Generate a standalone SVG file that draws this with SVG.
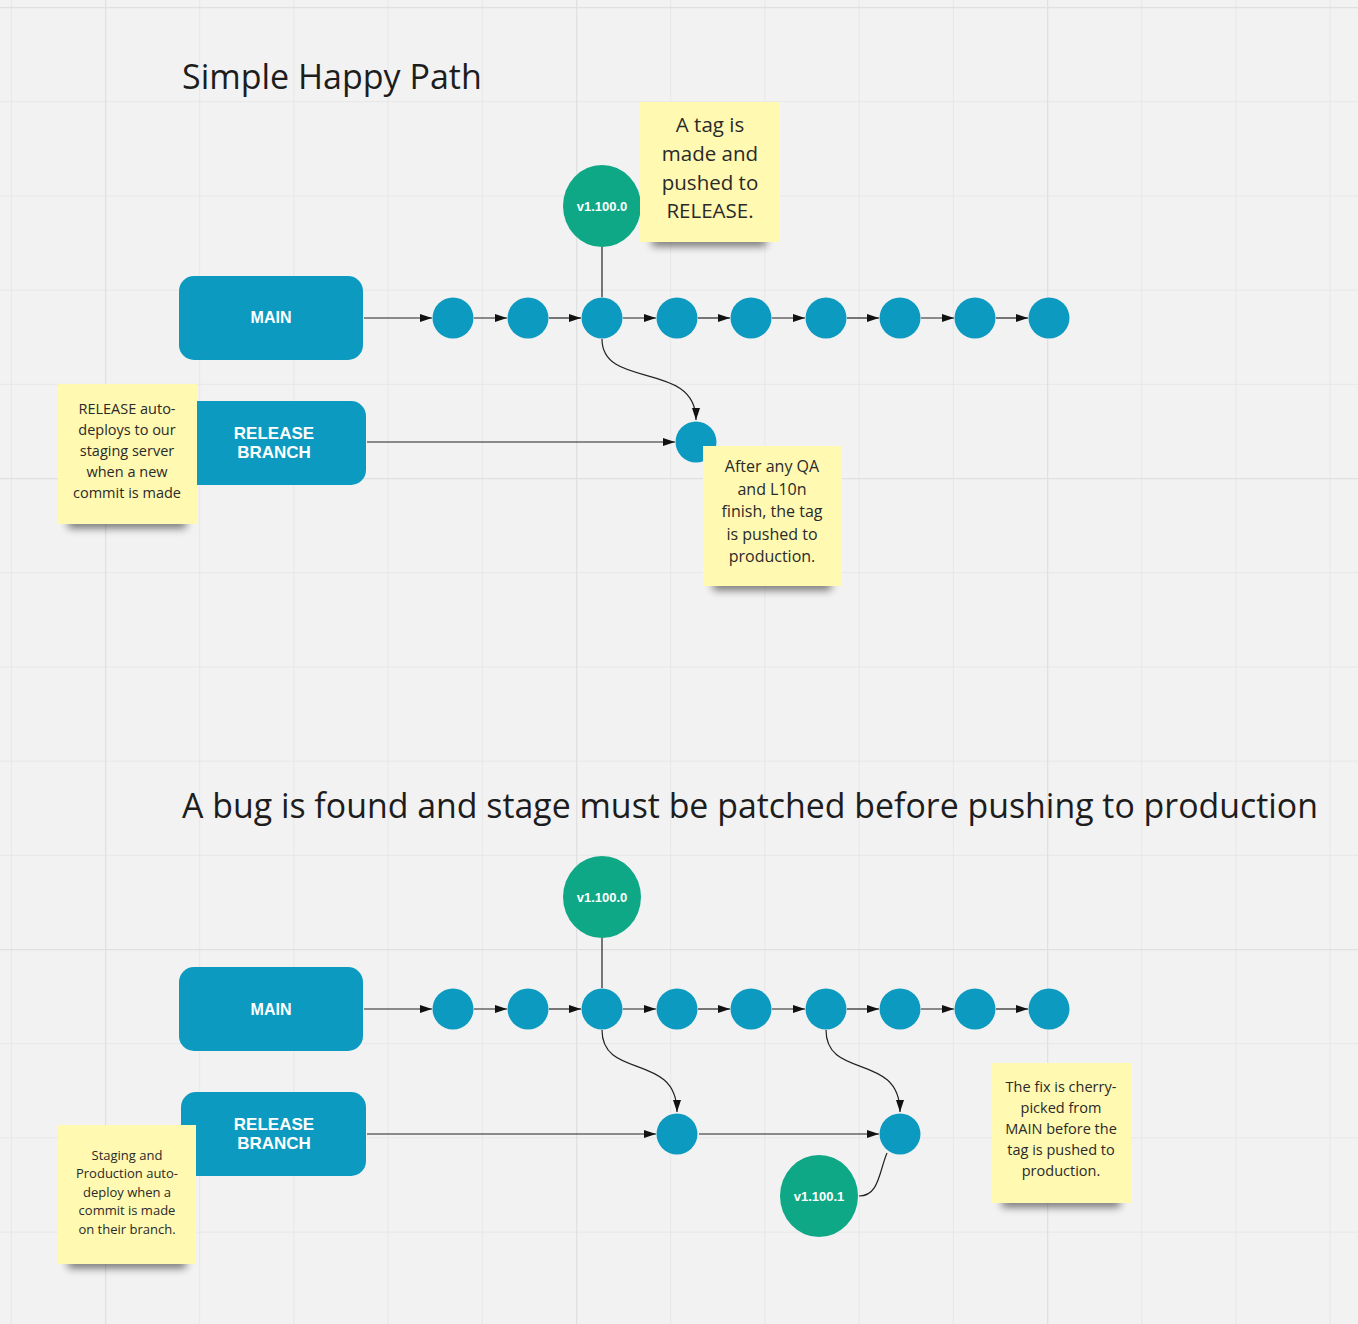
<svg xmlns="http://www.w3.org/2000/svg" width="1358" height="1324" viewBox="0 0 1358 1324">
<style>
.title{font-family:"Open Sans","Liberation Sans",sans-serif;font-size:34px;fill:#1d1d1d}
.box{fill:#0C9AC0}
.lbl{font-family:"Liberation Sans",Arial,sans-serif;font-weight:bold;fill:#fff;text-anchor:middle}
.c{fill:#0C9AC0}
.tag{fill:#0FA886}
.note{fill:#FFF9B1}
.nt{font-family:"Open Sans","Liberation Sans",sans-serif;fill:#2a2a2a;text-anchor:middle}
.ln{stroke:#222;stroke-width:1.2;fill:none}
.sh{fill:#000;opacity:0.55;filter:url(#blur)}
</style>
<defs>
<pattern id="grid" x="10.8" y="7" width="94.2" height="94.2" patternUnits="userSpaceOnUse">
<path d="M0 0H94.2M0 0V94.2" stroke="#e4e4e4" stroke-width="1.5" fill="none"/>
</pattern>
<pattern id="grid5" x="105" y="7" width="471" height="471" patternUnits="userSpaceOnUse">
<path d="M0 0H471M0 0V471" stroke="#e0e0e0" stroke-width="2.5" fill="none"/>
</pattern>
<filter id="blur" x="-20%" y="-100%" width="140%" height="300%"><feGaussianBlur stdDeviation="4"/></filter>
<marker id="ah" viewBox="0 0 12 8" refX="12" refY="4" markerWidth="12" markerHeight="8" markerUnits="userSpaceOnUse" orient="auto"><path d="M0 0L12 4L0 8z" fill="#111"/></marker>
</defs>
<rect width="1358" height="1324" fill="#F2F2F2"/>
<rect width="1358" height="1324" fill="url(#grid)"/>
<rect width="1358" height="1324" fill="url(#grid5)"/>

<text class="title" x="182" y="89">Simple Happy Path</text>
<text class="title" x="182" y="818" textLength="1136" lengthAdjust="spacingAndGlyphs">A bug is found and stage must be patched before pushing to production</text>

<g id="connectors">
<path class="ln" d="M364 318H432" marker-end="url(#ah)"/>
<path class="ln" d="M474 318H507" marker-end="url(#ah)"/>
<path class="ln" d="M549 318H581" marker-end="url(#ah)"/>
<path class="ln" d="M623 318H656" marker-end="url(#ah)"/>
<path class="ln" d="M698 318H730" marker-end="url(#ah)"/>
<path class="ln" d="M772 318H805" marker-end="url(#ah)"/>
<path class="ln" d="M847 318H879" marker-end="url(#ah)"/>
<path class="ln" d="M921 318H954" marker-end="url(#ah)"/>
<path class="ln" d="M996 318H1028" marker-end="url(#ah)"/>
<path class="ln" d="M602 247V297"/>
<path class="ln" d="M602 339C602 390 696 360 696 420" marker-end="url(#ah)"/>
<path class="ln" d="M367 442H675" marker-end="url(#ah)"/>

<path class="ln" d="M364 1009H432" marker-end="url(#ah)"/>
<path class="ln" d="M474 1009H507" marker-end="url(#ah)"/>
<path class="ln" d="M549 1009H581" marker-end="url(#ah)"/>
<path class="ln" d="M623 1009H656" marker-end="url(#ah)"/>
<path class="ln" d="M698 1009H730" marker-end="url(#ah)"/>
<path class="ln" d="M772 1009H805" marker-end="url(#ah)"/>
<path class="ln" d="M847 1009H879" marker-end="url(#ah)"/>
<path class="ln" d="M921 1009H954" marker-end="url(#ah)"/>
<path class="ln" d="M996 1009H1028" marker-end="url(#ah)"/>
<path class="ln" d="M602 938V988"/>
<path class="ln" d="M602 1030C602 1080 677 1052 677 1112" marker-end="url(#ah)"/>
<path class="ln" d="M826 1030C826 1080 900 1052 900 1112" marker-end="url(#ah)"/>
<path class="ln" d="M367 1134H656" marker-end="url(#ah)"/>
<path class="ln" d="M699 1134H879" marker-end="url(#ah)"/>
<path class="ln" d="M859 1196C879 1196 879 1172 887 1153"/>
</g>

<g id="main1"><rect class="box" x="179" y="276" width="184" height="84" rx="15"/><text class="lbl" x="271" y="323" font-size="16">MAIN</text></g>
<g id="release1"><rect class="box" x="181" y="401" width="185" height="84" rx="15"/><text class="lbl" x="274" y="439" font-size="17">RELEASE</text><text class="lbl" x="274" y="458" font-size="17">BRANCH</text></g>
<g id="commits1">
<circle class="c" cx="453" cy="318" r="20.5"/><circle class="c" cx="528" cy="318" r="20.5"/><circle class="c" cx="602" cy="318" r="20.5"/><circle class="c" cx="677" cy="318" r="20.5"/><circle class="c" cx="751" cy="318" r="20.5"/><circle class="c" cx="826" cy="318" r="20.5"/><circle class="c" cx="900" cy="318" r="20.5"/><circle class="c" cx="975" cy="318" r="20.5"/><circle class="c" cx="1049" cy="318" r="20.5"/>
</g>
<g id="rc1"><circle class="c" cx="696" cy="442" r="20.5"/></g>
<g id="tag1"><ellipse class="tag" cx="602" cy="206" rx="39" ry="41"/><text class="lbl" x="602" y="211" font-size="13">v1.100.0</text></g>

<g id="note1">
<rect class="sh" x="652" y="236" width="114" height="10"/>
<rect class="note" x="640" y="102" width="140" height="140"/>
<text class="nt" font-size="20.5"><tspan x="710" y="132">A tag is</tspan><tspan x="710" y="161">made and</tspan><tspan x="710" y="190">pushed to</tspan><tspan x="710" y="218">RELEASE.</tspan></text>
</g>
<g id="note2">
<rect class="sh" x="68" y="518" width="118" height="10"/>
<rect class="note" x="58" y="384" width="139" height="140"/>
<text class="nt" font-size="14.5"><tspan x="127" y="414">RELEASE auto-</tspan><tspan x="127" y="435">deploys to our</tspan><tspan x="127" y="456">staging server</tspan><tspan x="127" y="477">when a new</tspan><tspan x="127" y="498">commit is made</tspan></text>
</g>
<g id="note3">
<rect class="sh" x="713" y="580" width="118" height="10"/>
<rect class="note" x="703" y="446" width="139" height="140"/>
<text class="nt" font-size="16"><tspan x="772" y="472">After any QA</tspan><tspan x="772" y="495">and L10n</tspan><tspan x="772" y="517">finish, the tag</tspan><tspan x="772" y="540">is pushed to</tspan><tspan x="772" y="562">production.</tspan></text>
</g>

<g id="main2"><rect class="box" x="179" y="967" width="184" height="84" rx="15"/><text class="lbl" x="271" y="1015" font-size="16">MAIN</text></g>
<g id="release2"><rect class="box" x="181" y="1092" width="185" height="84" rx="15"/><text class="lbl" x="274" y="1130" font-size="17">RELEASE</text><text class="lbl" x="274" y="1149" font-size="17">BRANCH</text></g>
<g id="commits2">
<circle class="c" cx="453" cy="1009" r="20.5"/><circle class="c" cx="528" cy="1009" r="20.5"/><circle class="c" cx="602" cy="1009" r="20.5"/><circle class="c" cx="677" cy="1009" r="20.5"/><circle class="c" cx="751" cy="1009" r="20.5"/><circle class="c" cx="826" cy="1009" r="20.5"/><circle class="c" cx="900" cy="1009" r="20.5"/><circle class="c" cx="975" cy="1009" r="20.5"/><circle class="c" cx="1049" cy="1009" r="20.5"/>
</g>
<g id="rc2a"><circle class="c" cx="677" cy="1134" r="20.5"/></g>
<g id="rc2b"><circle class="c" cx="900" cy="1134" r="20.5"/></g>
<g id="tag2"><ellipse class="tag" cx="602" cy="897" rx="39" ry="41"/><text class="lbl" x="602" y="902" font-size="13">v1.100.0</text></g>
<g id="tag3"><ellipse class="tag" cx="819" cy="1196" rx="39" ry="41"/><text class="lbl" x="819" y="1201" font-size="13">v1.100.1</text></g>

<g id="note4">
<rect class="sh" x="1002" y="1197" width="118" height="10"/>
<rect class="note" x="992" y="1063" width="139" height="140"/>
<text class="nt" font-size="14.5"><tspan x="1061" y="1092">The fix is cherry-</tspan><tspan x="1061" y="1113">picked from</tspan><tspan x="1061" y="1134">MAIN before the</tspan><tspan x="1061" y="1155">tag is pushed to</tspan><tspan x="1061" y="1176">production.</tspan></text>
</g>
<g id="note5">
<rect class="sh" x="68" y="1258" width="118" height="10"/>
<rect class="note" x="58" y="1125" width="138" height="139"/>
<text class="nt" font-size="13"><tspan x="127" y="1160">Staging and</tspan><tspan x="127" y="1178">Production auto-</tspan><tspan x="127" y="1197">deploy when a</tspan><tspan x="127" y="1215">commit is made</tspan><tspan x="127" y="1234">on their branch.</tspan></text>
</g>
</svg>
